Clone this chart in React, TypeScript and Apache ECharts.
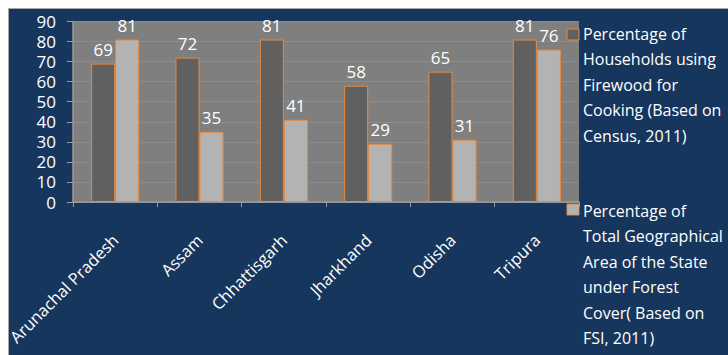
import React, { useEffect, useRef } from "react";
import * as echarts from "echarts";

const categories = ["Arunachal Pradesh", "Assam", "Chhattisgarh", "Jharkhand", "Odisha", "Tripura"];
const firewoodValues = [69, 72, 81, 58, 65, 81];
const forestValues = [81, 35, 41, 29, 31, 76];
const seriesNames = [
  "Percentage of\nHouseholds using\nFirewood for\nCooking (Based on\nCensus, 2011)",
  "Percentage of\nTotal Geographical\nArea of the State\nunder Forest\nCover( Based on\nFSI, 2011)",
];
const seriesColors = ["#606060", "#b3b3b3"];

const FONT = "'Open Sans', sans-serif";
const ORANGE = "#e8893c";

export default function App() {
  const ref = useRef<HTMLDivElement>(null);
  useEffect(() => {
    if (!ref.current) return;
    const chart = echarts.init(ref.current, null, { renderer: "svg" });
    const legendTop = [11.75, 188.75];
    const iconTop = [20, 195];
    const graphic: any[] = [];
    seriesNames.forEach((name, i) => {
      graphic.push({
        type: "rect",
        shape: { x: 558, y: iconTop[i], width: 12, height: 11 },
        style: { fill: seriesColors[i], stroke: ORANGE, lineWidth: 1 },
        z: 10,
      });
      graphic.push({
        type: "text",
        x: 574,
        y: legendTop[i],
        style: {
          text: name,
          fill: "#ffffff",
          font: `16px ${FONT}`,
          lineHeight: 25.5,
          verticalAlign: "top",
          align: "left",
        },
        z: 10,
      });
    });
    chart.setOption({
      animation: false,
      backgroundColor: "transparent",
      textStyle: { fontFamily: FONT },
      grid: {
        left: 64,
        top: 12.5,
        right: 149,
        bottom: 153,
        show: true,
        backgroundColor: "#7f7f7f",
        borderWidth: 0,
        containLabel: false,
        outerBoundsMode: "none",
      },
      xAxis: {
        type: "category",
        data: categories,
        axisLine: { show: true, lineStyle: { color: "#9a9a9a", width: 1.5 } },
        axisTick: { show: true, length: 5, lineStyle: { color: "#9a9a9a" } },
        axisLabel: {
          color: "#ffffff",
          fontSize: 16.5,
          fontFamily: FONT,
          rotate: 45,
          margin: 35,
          interval: 0,
        },
      },
      yAxis: {
        type: "value",
        min: 0,
        max: 90,
        interval: 10,
        axisLine: { show: true, lineStyle: { color: "#9a9a9a", width: 1.5 } },
        axisTick: { show: true, length: 6, lineStyle: { color: "#9a9a9a" } },
        axisLabel: { color: "#ffffff", fontSize: 17, lineHeight: 18, fontFamily: FONT, margin: 17 },
        splitLine: { show: true, lineStyle: { color: "#8c8c8c", width: 1 } },
      },
      series: [firewoodValues, forestValues].map((vals, i) => ({
        type: "bar",
        name: seriesNames[i],
        data: vals,
        barGap: "0%",
        barCategoryGap: "43%",
        itemStyle: { color: seriesColors[i], borderColor: ORANGE, borderWidth: 1 },
        label: {
          show: true,
          position: "top",
          distance: 6,
          color: "#ffffff",
          fontSize: 17,
          fontFamily: FONT,
        },
      })),
      graphic,
    });
    return () => chart.dispose();
  }, []);
  return (
    <div
      style={{
        position: "fixed",
        left: 8,
        top: 8,
        width: 720,
        height: 347,
        background: "#17365d",
        borderTop: "1px solid #a6a6a6",
        borderLeft: "1px solid #a6a6a6",
        boxSizing: "border-box",
        overflow: "hidden",
      }}
    >
      <div ref={ref} style={{ width: 719, height: 346 }} />
    </div>
  );
}
